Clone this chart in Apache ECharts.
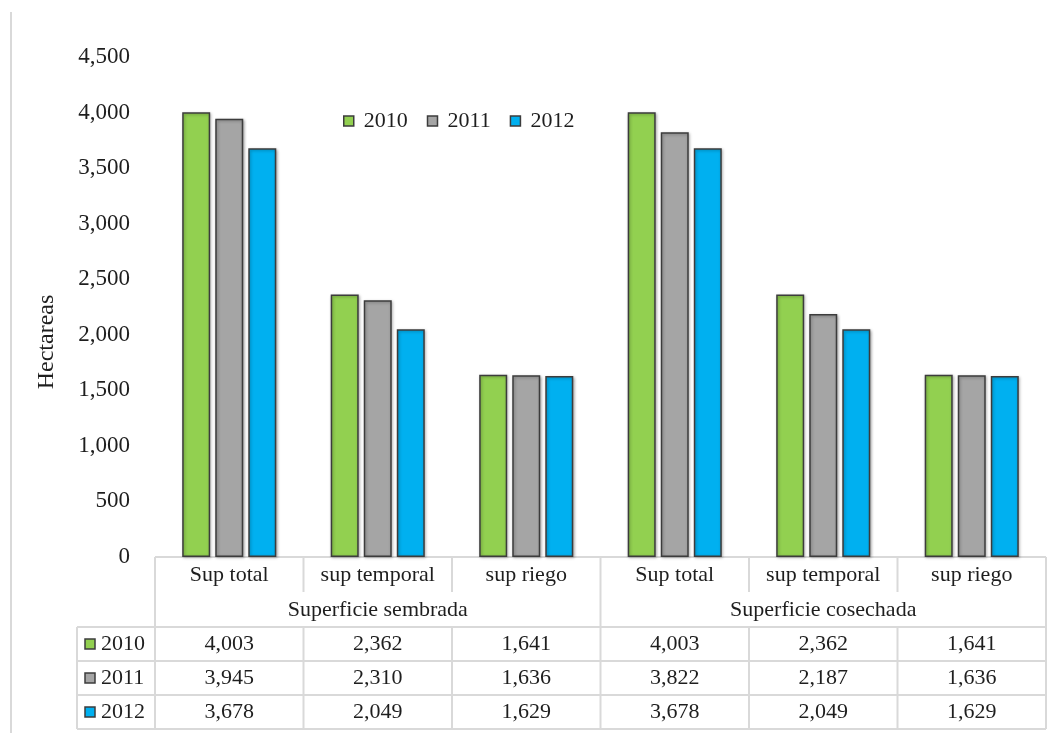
<!DOCTYPE html>
<html>
<head>
<meta charset="utf-8">
<script src="https://cdn.jsdelivr.net/npm/echarts@6/dist/echarts.min.js"></script>
<style>
  html, body { margin: 0; padding: 0; background: #fff; }
  #chart { width: 1056px; height: 733px; }
</style>
</head>
<body>
<div id="chart"></div>
<script>
// data
var years = ['2010', '2011', '2012']
var subCats = ['Sup total', 'sup temporal', 'sup riego']
var groups = ['Superficie sembrada', 'Superficie cosechada']
var categories = ['Sup total', 'sup temporal', 'sup riego', 'Sup total ', 'sup temporal ', 'sup riego ']
var v2010 = [4003, 2362, 1641, 4003, 2362, 1641]
var v2011 = [3945, 2310, 1636, 3822, 2187, 1636]
var v2012 = [3678, 2049, 1629, 3678, 2049, 1629]
var yTicks = [0, 500, 1000, 1500, 2000, 2500, 3000, 3500, 4000, 4500]

var colors = ['#92d050', '#a5a5a5', '#00b0f0']
var font = 'Liberation Serif'
var lineColor = '#d9d9d9'
var textColor = '#1e1e1e'

function fmt(v) {
  return String(v).replace(/\B(?=(\d{3})+(?!\d))/g, ',')
}

var chart = echarts.init(document.getElementById('chart'))

function barSeries(name, data, color) {
  return {
    name: name,
    type: 'bar',
    data: data,
    barWidth: 28,
    barGap: '18%',
    itemStyle: {
      color: color,
      borderColor: '#3c3c3c',
      borderWidth: 1.5,
      shadowColor: 'rgba(0,0,0,0.3)',
      shadowBlur: 3,
      shadowOffsetX: 1,
      shadowOffsetY: 1
    }
  }
}

chart.setOption({
  animation: false,
  color: colors,
  grid: {
    left: 155,
    right: 10,
    top: 57,
    bottom: 176
  },
  legend: {
    left: 338,
    top: 105,
    itemWidth: 10,
    itemHeight: 10,
    itemGap: 19,
    icon: 'rect',
    textStyle: {
      fontFamily: font,
      fontSize: 22,
      color: textColor,
      padding: [0, 0, 0, 5]
    },
    itemStyle: {
      borderColor: '#3c3c3c',
      borderWidth: 1.5
    },
    data: years
  },
  xAxis: {
    type: 'category',
    data: categories,
    axisLabel: { show: false },
    axisTick: { show: false },
    axisLine: { show: false }
  },
  yAxis: {
    type: 'value',
    min: 0,
    max: 4500,
    interval: 500,
    splitLine: { show: false },
    axisLine: { show: false },
    axisTick: { show: false },
    axisLabel: {
      margin: 25,
      fontFamily: font,
      fontSize: 23,
      color: textColor,
      formatter: function(v) {
        return yTicks.indexOf(v) >= 0 ? fmt(v) : ''
      }
    }
  },
  series: [
    barSeries(years[0], v2010, colors[0]),
    barSeries(years[1], v2011, colors[1]),
    barSeries(years[2], v2012, colors[2])
  ]
})

// data table under the plot
function buildTable() {
  var c0 = chart.convertToPixel({ xAxisIndex: 0 }, 0)
  var c1 = chart.convertToPixel({ xAxisIndex: 0 }, 1)
  var bw = c1 - c0
  var n = categories.length
  var x0 = c0 - bw / 2
  var x1 = x0 + bw * n
  var yTop = chart.convertToPixel({ yAxisIndex: 0 }, 0)
  var yHead = yTop + 35
  var yGroup = yTop + 70
  var rowH = 34
  var yRows = [yGroup, yGroup + rowH, yGroup + rowH * 2, yGroup + rowH * 3]
  var legLeft = 77
  var els = []

  function line(xa, ya, xb, yb) {
    els.push({
      type: 'line',
      shape: { x1: xa, y1: ya, x2: xb, y2: yb },
      style: { stroke: lineColor, lineWidth: 2 }
    })
  }
  function text(str, x, y, align) {
    els.push({
      type: 'text',
      x: x,
      y: y,
      style: {
        text: str,
        fill: textColor,
        font: '22px "' + font + '"',
        textAlign: align || 'center',
        textVerticalAlign: 'middle'
      }
    })
  }

  // outer frame line on the left
  line(11, 12, 11, 733)

  // horizontal lines
  line(x0, yTop, x1, yTop)
  yRows.forEach(function(y) { line(legLeft, y, x1, y) })

  // vertical lines
  line(legLeft, yRows[0], legLeft, yRows[3])
  for (var i = 0; i <= n; i++) {
    var bx = x0 + bw * i
    if (i % subCats.length === 0) {
      line(bx, yTop, bx, yRows[3])
    } else {
      line(bx, yTop, bx, yHead)
      line(bx, yRows[0], bx, yRows[3])
    }
  }

  // header labels
  for (var j = 0; j < n; j++) {
    text(subCats[j % subCats.length], x0 + bw * (j + 0.5), yTop + 18)
  }
  groups.forEach(function(g, k) {
    text(g, x0 + bw * subCats.length * (k + 0.5), yTop + 53)
  })

  // value rows with legend keys
  var rows = [v2010, v2011, v2012]
  rows.forEach(function(vals, r) {
    var cy = yRows[r] + rowH / 2
    els.push({
      type: 'rect',
      shape: { x: legLeft + 8, y: cy - 5, width: 10, height: 10 },
      style: { fill: colors[r], stroke: '#3c3c3c', lineWidth: 1.5 }
    })
    text(years[r], legLeft + 24, cy, 'left')
    vals.forEach(function(v, j) {
      text(fmt(v), x0 + bw * (j + 0.5), cy)
    })
  })

  // axis name
  els.push({
    type: 'text',
    x: 47,
    y: 342,
    rotation: Math.PI / 2,
    style: {
      text: 'Hectareas',
      fill: textColor,
      font: '24px "' + font + '"',
      textAlign: 'center',
      textVerticalAlign: 'middle'
    }
  })

  chart.setOption({ graphic: { elements: els } })
}

buildTable()
</script>
</body>
</html>
